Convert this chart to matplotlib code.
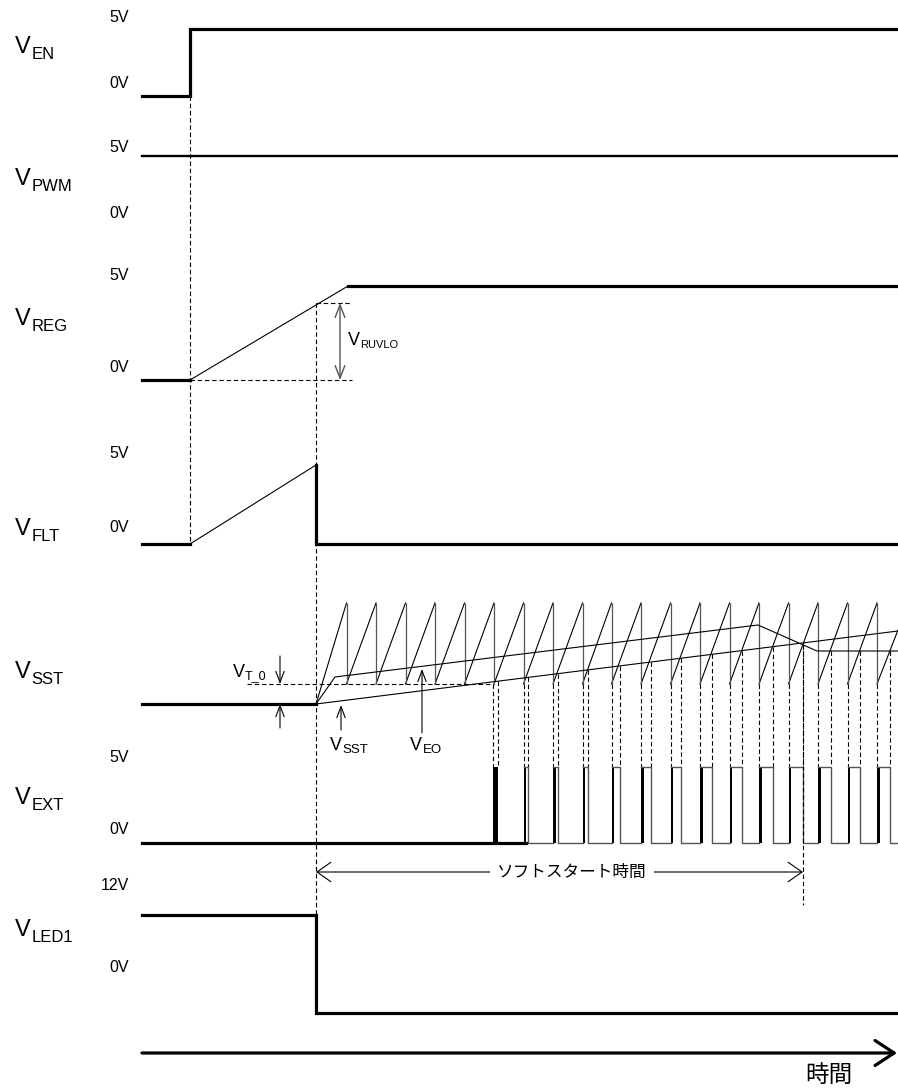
import numpy as np
import matplotlib
matplotlib.use('Agg')
import matplotlib.pyplot as plt

plt.rcParams['font.family'] = ['Liberation Sans', 'Noto Sans CJK JP', 'DejaVu Sans']

# Eixo horizontal (tempo) e vertical (px)
t_ini, t_en, t_flt, t_reg, t_ss, t_fim = 142, 190, 316, 348, 803, 898

en_lo, en_hi = 96, 29
pwm_hi = 156
reg_lo, reg_uvlo, reg_hi = 380, 303, 286
flt_lo, flt_pk = 544, 465
sst_base = 704
saw_lo, saw_hi, saw_fim = 684, 603, 630
ext_lo, ext_hi = 843, 767
led_hi, led_lo = 915, 1013
y_tempo = 1053
y_ss = 872

# Dente de serra (instantes dos picos)
saw_topo = [346.5, 376, 405.5, 435, 464.5, 494, 523.5, 553, 582.5, 611.5,
            641, 670.5, 700, 729.5, 759, 788.5, 818, 847.5, 877]

# Rampa V_SST e saida do amplificador de erro V_EO
sst_t = [316, 898]
sst_y = [704, 631]
eo_t = [316, 335, 758, 817, 898]
eo_y = [704, 677, 625, 651, 651]

# Pulsos de V_EXT (subida / descida)
pulso_on = [493, 523.5, 553, 582.5, 611.5, 641, 670.5, 700, 729.5, 759,
            788.5, 818, 847.5, 877]
pulso_off = [497.5, 528, 558, 588, 620, 651, 681, 711.5, 742, 773,
             803, 831, 860, 889.5]

# Rotulos de tensao (texto, y)
rot_v = [('5V', 18), ('0V', 83), ('5V', 147), ('0V', 213), ('5V', 275), ('0V', 368),
         ('5V', 454), ('0V', 528), ('5V', 757), ('0V', 829), ('12V', 885), ('0V', 968)]
rot_sinal = [('EN', 53), ('PWM', 185), ('REG', 325), ('FLT', 535), ('SST', 678),
             ('EXT', 804), ('LED1', 936)]

K = 'black'
CINZA = '#555555'
GROSSO = 2.3
FINO = 0.8
TRACO = (0, (4, 2.5))

fig = plt.figure(figsize=(8.98, 10.91), dpi=100)
ax = fig.add_axes([0, 0, 1, 1])
ax.set_xlim(0, 898)
ax.set_ylim(1091, 0)
ax.axis('off')


def rotulo(x, y, sub, tam=17, tam_sub=12, dx=16.5, dy=6):
    ax.text(x, y, 'V', fontsize=tam, va='baseline', ha='left')
    ax.text(x + dx, y + dy, sub, fontsize=tam_sub, va='baseline', ha='left')


def seta(xy, xytext, estilo='->', hl=0.8, hw=0.3, cor=K, lw=FINO):
    ax.annotate('', xy=xy, xytext=xytext,
                arrowprops=dict(arrowstyle=f'{estilo},head_length={hl},head_width={hw}',
                                color=cor, lw=lw, shrinkA=0, shrinkB=0, mutation_scale=10))


# V_EN
ax.plot([t_ini, t_en, t_en, t_fim], [en_lo, en_lo, en_hi, en_hi], color=K, lw=GROSSO,
        solid_joinstyle='miter')
# V_PWM
ax.plot([t_ini, t_fim], [pwm_hi, pwm_hi], color=K, lw=1.7)
# V_REG
ax.plot([t_ini, t_en], [reg_lo, reg_lo], color=K, lw=GROSSO)
ax.plot([t_en, t_reg], [reg_lo, reg_hi], color=K, lw=FINO)
ax.plot([t_reg, t_fim], [reg_hi, reg_hi], color=K, lw=GROSSO)
ax.plot([t_flt, 352], [reg_uvlo, reg_uvlo], color=K, lw=FINO, ls=TRACO)
ax.plot([t_en, 352], [reg_lo, reg_lo], color=K, lw=FINO, ls=TRACO)
seta((340, reg_uvlo), (340, reg_lo), estilo='<->', hl=0.9, hw=0.35, cor=CINZA, lw=1.0)
rotulo(348, 345, 'RUVLO', tam=13, tam_sub=8, dx=12, dy=3)

# V_FLT
ax.plot([t_ini, t_en], [flt_lo, flt_lo], color=K, lw=GROSSO)
ax.plot([t_en, t_flt], [flt_lo, flt_pk], color=K, lw=FINO)
ax.plot([t_flt, t_flt, t_fim], [flt_pk, flt_lo, flt_lo], color=K, lw=GROSSO,
        solid_joinstyle='miter')

# V_SST
ax.plot([t_ini, t_flt], [sst_base, sst_base], color=K, lw=GROSSO)
ini_x = [t_flt] + saw_topo
ini_y = [sst_base] + [saw_lo] * len(saw_topo)
fim_x = saw_topo + [t_fim]
fim_y = [saw_hi] * len(saw_topo) + [saw_fim]
for x0, y0, x1, y1 in zip(ini_x, ini_y, fim_x, fim_y):
    ax.plot([x0, x1], [y0, y1], color=K, lw=FINO)
ax.vlines(saw_topo, saw_hi, saw_lo, color=CINZA, lw=0.9)
ax.plot(sst_t, sst_y, color=K, lw=FINO)
ax.plot(eo_t, eo_y, color=K, lw=FINO)

# V_T_0
ax.plot([247, pulso_on[0]], [saw_lo, saw_lo], color=K, lw=FINO, ls=TRACO)
seta((280, saw_lo), (280, 656))
seta((280, sst_base), (280, 728))
rotulo(233, 677, 'T_0', tam=13, tam_sub=9, dx=12, dy=2)

# V_SST / V_EO setas
seta((341, 705), (341, 730))
rotulo(330, 750, 'SST', tam=13, tam_sub=9.5, dx=12, dy=3)
seta((422, 669), (422, 733))
rotulo(410, 750, 'EO', tam=13, tam_sub=9.5, dx=12.5, dy=3)

# V_EXT
ax.plot([t_ini, pulso_on[1] + 2.7], [ext_lo, ext_lo], color=K, lw=GROSSO)
ax.fill_between([pulso_on[0], pulso_off[0]], ext_hi, ext_lo, color=K, lw=0)
controle = np.maximum(np.interp(pulso_off, sst_t, sst_y), np.interp(pulso_off, eo_t, eo_y))
prox = pulso_on[1:] + [t_fim]
for i, (on, off) in enumerate(zip(pulso_on, pulso_off)):
    ax.plot([on, on], [saw_lo, ext_hi], color=K, lw=FINO, ls=TRACO)
    ax.plot([off, off], [controle[i], ext_hi], color=K, lw=FINO, ls=TRACO)
    if i == 0:
        continue
    ax.fill_between([on, on + 2.7], ext_hi, ext_lo, color=K, lw=0)
    ax.plot([on, off, off, prox[i]], [ext_hi, ext_hi, ext_lo, ext_lo], color=CINZA, lw=1.0)

# Tempo de soft-start
y_cruz = np.interp(t_ss, sst_t, sst_y)
ax.plot([t_ss, t_ss], [y_cruz, 905], color=K, lw=FINO, ls=TRACO)
seta((t_flt, y_ss), (t_ss, y_ss), estilo='<->', hl=1.0, hw=0.7)
ax.text(572, y_ss, 'ソフトスタート時間', fontsize=12, ha='center', va='center',
        bbox=dict(fc='white', ec='none', pad=5))

# V_LED1
ax.plot([t_ini, t_flt, t_flt, t_fim], [led_hi, led_hi, led_lo, led_lo], color=K, lw=GROSSO,
        solid_joinstyle='miter')

# Linhas tracejadas verticais
ax.plot([t_en, t_en], [en_lo, flt_lo], color=K, lw=FINO, ls=TRACO)
ax.plot([t_flt, t_flt], [reg_uvlo, led_hi], color=K, lw=FINO, ls=TRACO)

# Eixo do tempo
seta((897, y_tempo), (t_ini, y_tempo), hl=1.37, hw=0.9, lw=GROSSO)
ax.text(829, 1076, '時間', fontsize=17, ha='center', va='center')

# Rotulos
for txt, y in rot_v:
    ax.text(129, y, txt, fontsize=11.5, ha='right', va='center')
for sub, y in rot_sinal:
    rotulo(15, y, sub)

fig.savefig('out.png', dpi=100)
